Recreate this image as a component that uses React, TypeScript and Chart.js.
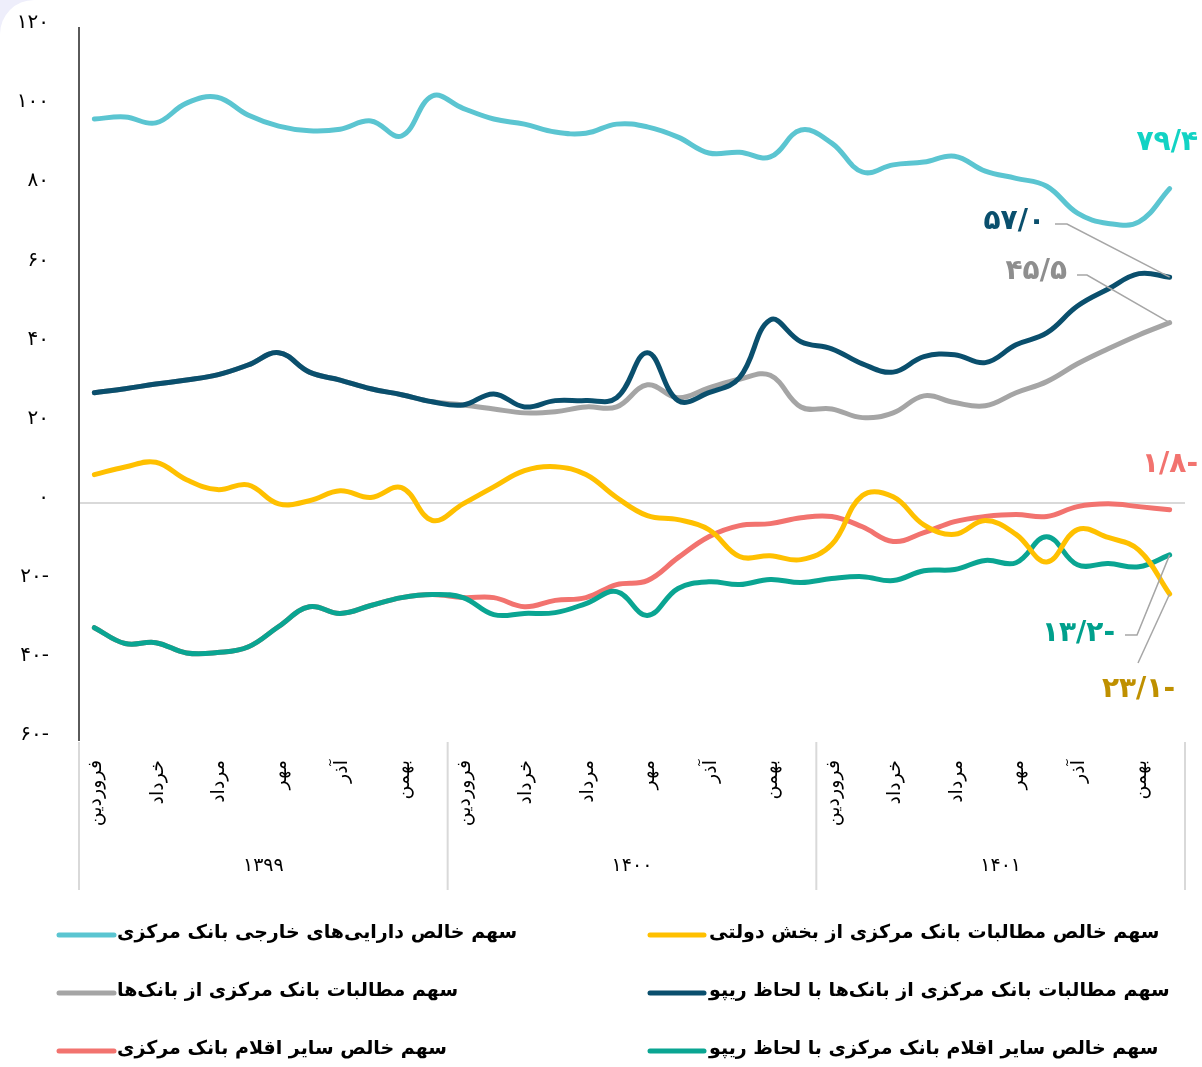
import React, { useEffect, useRef } from 'react';
import { Chart, registerables } from 'chart.js';

Chart.register(...registerables);

// ---------- data ----------
const MONTHS = ['فروردین', 'اردیبهشت', 'خرداد', 'تیر', 'مرداد', 'شهریور', 'مهر', 'آبان', 'آذر', 'دی', 'بهمن', 'اسفند'];
const YEARS = ['۱۳۹۹', '۱۴۰۰', '۱۴۰۱'];
const CATEGORIES = YEARS.flatMap((y) => MONTHS.map((m) => m));

// سهم خالص دارایی‌های خارجی بانک مرکزی
const foreignAssets = [97.0, 97.5, 96.0, 101.0, 102.5, 98.0, 95.2, 94.0, 94.4, 96.5, 92.7, 102.8,
  99.7, 97.0, 95.7, 93.7, 93.4, 95.7, 95.0, 92.4, 88.4, 88.6, 87.4, 94.2,
  90.9, 83.6, 85.4, 86.1, 87.6, 83.8, 82.0, 80.0, 73.2, 70.6, 71.0, 79.4];
// سهم خالص مطالبات بانک مرکزی از بخش دولتی
const govClaims = [7.1, 9.0, 10.2, 5.8, 3.3, 4.5, -0.3, 0.5, 3.0, 1.3, 3.8, -4.5,
  -0.3, 4.0, 8.1, 9.1, 7.1, 1.3, -3.3, -4.3, -6.8, -13.6, -13.4, -14.4,
  -10.6, 1.8, 1.5, -5.6, -8.0, -4.5, -8.0, -15.0, -6.8, -8.8, -12.0, -23.1];
// سهم مطالبات بانک مرکزی از بانک‌ها
const bankClaims = [27.8, 28.8, 30.0, 31.0, 32.3, 34.8, 37.9, 33.0, 31.0, 28.8, 27.3, 25.5,
  24.7, 23.7, 22.7, 23.0, 24.2, 24.2, 29.8, 26.5, 29.0, 31.2, 32.2, 24.2,
  23.7, 21.5, 22.7, 27.0, 25.3, 24.5, 27.8, 30.6, 35.1, 38.9, 42.4, 45.5];
// سهم مطالبات بانک مرکزی از بانک‌ها با لحاظ ریپو
const bankClaimsRepo = [27.8, 28.8, 30.0, 31.0, 32.3, 34.8, 37.9, 33.0, 31.0, 28.8, 27.3, 25.5,
  24.7, 27.5, 24.2, 25.8, 25.8, 26.5, 37.9, 25.8, 27.8, 31.6, 46.2, 40.7,
  38.9, 35.1, 33.0, 36.9, 37.4, 35.4, 39.9, 42.9, 49.7, 54.0, 57.9, 57.0];
// سهم خالص سایر اقلام بانک مرکزی
const otherItems = [-31.6, -35.6, -35.4, -38.0, -37.9, -36.5, -31.3, -26.3, -28.0, -26.0, -24.0, -23.2,
  -24.0, -24.0, -26.3, -24.7, -24.0, -20.7, -19.7, -13.9, -8.6, -5.8, -5.3, -3.8,
  -3.5, -6.1, -9.8, -7.6, -4.8, -3.5, -3.0, -3.5, -1.0, -0.3, -1.0, -1.8];
// سهم خالص سایر اقلام بانک مرکزی با لحاظ ریپو
const otherItemsRepo = [-31.6, -35.6, -35.4, -38.0, -37.9, -36.5, -31.3, -26.3, -28.0, -26.0, -24.0, -23.2,
  -24.0, -28.3, -28.0, -27.8, -25.5, -22.5, -28.5, -21.7, -20.0, -20.7, -19.4, -20.2,
  -19.2, -18.7, -19.7, -17.2, -16.9, -14.6, -15.2, -8.6, -15.7, -15.4, -16.2, -13.2];

const SERIES_NAMES = [
  'سهم خالص دارایی‌های خارجی بانک مرکزی',
  'سهم خالص مطالبات بانک مرکزی از بخش دولتی',
  'سهم مطالبات بانک مرکزی از بانک‌ها',
  'سهم مطالبات بانک مرکزی از بانک‌ها با لحاظ ریپو',
  'سهم خالص سایر اقلام بانک مرکزی',
  'سهم خالص سایر اقلام بانک مرکزی با لحاظ ریپو',
];
const END_LABELS = ['۷۹/۴', '۲۳/۱-', '۴۵/۵', '۵۷/۰', '۱/۸-', '۱۳/۲-'];

// ---------- styles ----------
const FONT = "'DejaVu Sans', sans-serif";
const COLORS = ['#5BC5D1', '#FFC000', '#A5A5A5', '#0A4F6D', '#F2736F', '#0AA592'];
const LABEL_COLORS = ['#12D3C4', '#BF9000', '#8E8E8E', '#0A4F6D', '#F2736F', '#00A08C'];
const ORDERS = [1, 2, 6, 3, 5, 4];
const FA = '۰۱۲۳۴۵۶۷۸۹';
const toFa = (n: number) => {
  const s = String(Math.abs(n)).replace(/\d/g, (d) => FA[+d]);
  return n < 0 ? s + '-' : s;
};

// label placement: [rightX, centerY, leader points (excluding end point)]
const LABEL_POS: { x: number; y: number; leader: number[][] }[] = [
  { x: 1198, y: 143, leader: [] },
  { x: 1175, y: 690, leader: [[1138, 663]] },
  { x: 1067, y: 272, leader: [[1077, 275], [1087, 275]] },
  { x: 1045, y: 222, leader: [[1055, 224], [1067, 224]] },
  { x: 1198, y: 465, leader: [] },
  { x: 1115, y: 634, leader: [[1125, 635], [1137, 635]] },
];
// legend grid: dataset index for [row][col]
const LEGEND_GRID = [[0, 1], [2, 3], [4, 5]];

const overlayPlugin = {
  id: 'overlay',
  afterDatasetsDraw(chart: any) {
    const { ctx, scales, chartArea } = chart;
    const x = scales.x;
    const y = scales.y;
    const cw = x.getPixelForValue(1) - x.getPixelForValue(0);
    ctx.save();
    // year separators
    ctx.strokeStyle = '#D9D9D9';
    ctx.lineWidth = 2;
    for (let k = 0; k <= YEARS.length; k++) {
      const px = x.getPixelForValue(k * 12) - cw / 2;
      ctx.beginPath();
      ctx.moveTo(px, chartArea.bottom + 2);
      ctx.lineTo(px, chartArea.bottom + 150);
      ctx.stroke();
    }
    // year labels
    ctx.fillStyle = '#000';
    ctx.font = `19px ${FONT}`;
    ctx.textAlign = 'center';
    ctx.textBaseline = 'middle';
    YEARS.forEach((yr, k) => {
      const cx = (x.getPixelForValue(k * 12) + x.getPixelForValue(k * 12 + 11)) / 2;
      ctx.fillText(yr, cx, chartArea.bottom + 126);
    });
    // end labels + leaders
    chart.data.datasets.forEach((ds: any, i: number) => {
      const last = ds.data.length - 1;
      const ex = x.getPixelForValue(last);
      const ey = y.getPixelForValue(ds.data[last]);
      const pos = LABEL_POS[i];
      if (pos.leader.length) {
        ctx.strokeStyle = '#A6A6A6';
        ctx.lineWidth = 1.5;
        ctx.beginPath();
        ctx.moveTo(pos.leader[0][0], pos.leader[0][1]);
        for (let j = 1; j < pos.leader.length; j++) ctx.lineTo(pos.leader[j][0], pos.leader[j][1]);
        ctx.lineTo(ex, ey);
        ctx.stroke();
      }
      ctx.fillStyle = LABEL_COLORS[i];
      ctx.font = `bold 28px ${FONT}`;
      ctx.textAlign = 'right';
      ctx.textBaseline = 'middle';
      ctx.fillText(END_LABELS[i], pos.x, pos.y);
    });
    // legend
    const rowsY = [935, 993, 1051];
    const cols = [{ s0: 59, s1: 114, t: 117 }, { s0: 650, s1: 704, t: 709 }];
    LEGEND_GRID.forEach((row, r) => {
      row.forEach((di, c) => {
        const col = cols[c];
        const ly = rowsY[r];
        ctx.strokeStyle = COLORS[di];
        ctx.lineWidth = 5;
        ctx.lineCap = 'round';
        ctx.beginPath();
        ctx.moveTo(col.s0, ly);
        ctx.lineTo(col.s1, ly);
        ctx.stroke();
        ctx.fillStyle = '#000';
        ctx.font = `bold 19px ${FONT}`;
        ctx.direction = 'rtl';
        ctx.textAlign = 'left';
        ctx.textBaseline = 'middle';
        ctx.fillText(SERIES_NAMES[di], col.t, ly - 2);
        ctx.direction = 'ltr';
      });
    });
    ctx.restore();
  },
};

export default function App() {
  const ref = useRef<HTMLCanvasElement>(null);
  useEffect(() => {
    const seriesData = [foreignAssets, govClaims, bankClaims, bankClaimsRepo, otherItems, otherItemsRepo];
    const chart = new Chart(ref.current as HTMLCanvasElement, {
      type: 'line',
      data: {
        labels: CATEGORIES,
        datasets: seriesData.map((d, i) => ({
          label: SERIES_NAMES[i],
          data: d,
          borderColor: COLORS[i],
          backgroundColor: COLORS[i],
          order: ORDERS[i],
          fill: false,
        })),
      },
      options: {
        responsive: false,
        animation: false,
        devicePixelRatio: 1,
        layout: { padding: { left: 0, top: 28, right: 17, bottom: 177 } },
        elements: {
          point: { radius: 0, hoverRadius: 0 },
          line: { tension: 0.4, borderWidth: 5, borderCapStyle: 'round', borderJoinStyle: 'round' },
        },
        plugins: { legend: { display: false }, tooltip: { enabled: false } },
        scales: {
          x: {
            type: 'category',
            offset: true,
            grid: { display: false, drawTicks: false },
            border: { display: false },
            ticks: {
              autoSkip: false,
              maxRotation: 90,
              minRotation: 90,
              padding: 20,
              labelOffset: 2,
              color: '#000',
              font: { family: FONT, size: 19 },
              callback: (_v: any, i: number) => (i % 2 === 0 ? MONTHS[i % 12] : ''),
            },
            afterFit: (s: any) => { s.height = 150; s.paddingLeft = 0; s.paddingRight = 0; },
          },
          y: {
            min: -60,
            max: 120,
            ticks: {
              stepSize: 20,
              padding: 30,
              labelOffset: -5,
              color: '#000',
              font: { family: FONT, size: 20 },
              callback: (v: any) => toFa(Number(v)),
            },
            grid: {
              drawTicks: false,
              lineWidth: 2,
              color: (c: any) => (c.tick && c.tick.value === 0 ? '#D9D9D9' : 'rgba(0,0,0,0)'),
            },
            border: { display: true, color: '#5A5A5A', width: 2 },
            afterFit: (s: any) => { s.width = 79; s.paddingTop = 0; s.paddingBottom = 0; },
          },
        },
      },
      plugins: [overlayPlugin],
    } as any);
    return () => chart.destroy();
  }, []);
  return (
    <div style={{ position: 'absolute', left: 0, top: 0, width: 1202, height: 1067, background: '#EEEEFB', overflow: 'hidden' }}>
      <div style={{ position: 'absolute', left: 0, top: 0, width: 1202, height: 1067, background: '#FFFFFF', borderTopLeftRadius: 34 }}>
        <canvas ref={ref} width={1202} height={1067} style={{ display: 'block', width: 1202, height: 1067 }} />
      </div>
    </div>
  );
}
